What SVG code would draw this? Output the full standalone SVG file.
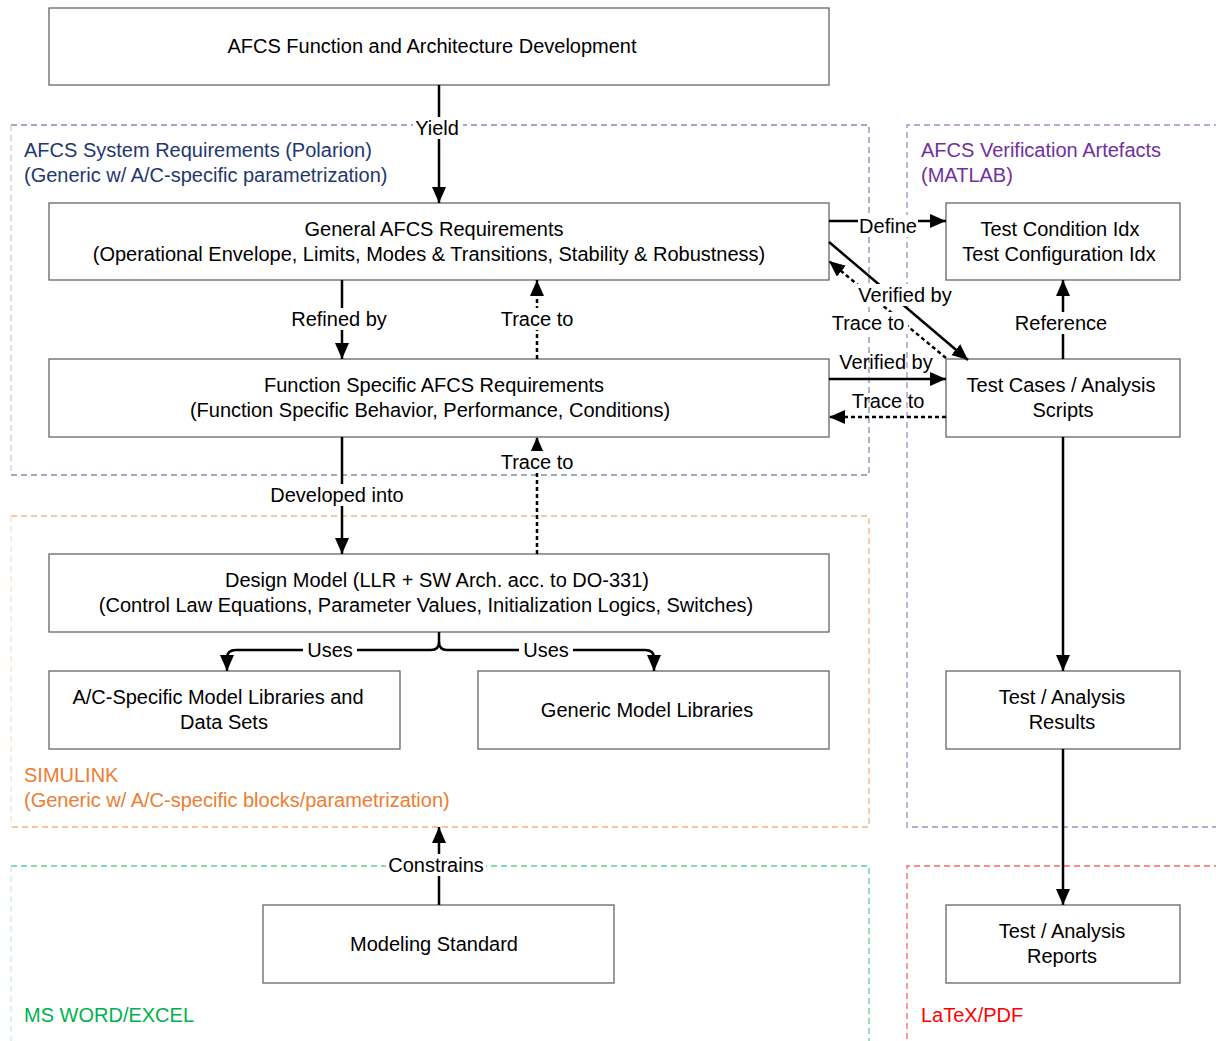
<svg xmlns="http://www.w3.org/2000/svg" width="1216" height="1041" viewBox="0 0 1216 1041">
  <defs>
    <marker id="arrow" markerUnits="userSpaceOnUse" markerWidth="18" markerHeight="16" refX="16" refY="7" orient="auto">
      <path d="M0,0 L16,7 L0,14 z" fill="#000"/>
    </marker>
    <style>
      text { font-family: "Liberation Sans", Arial, sans-serif; font-size: 20px; fill: #000; }
      .node rect { fill: #fff; stroke: #666; stroke-width: 1.3; }
      .node text { text-anchor: middle; dominant-baseline: central; }
      .grp { fill: none; stroke-width: 1.3; stroke-dasharray: 6 4; }
      .conn { fill: none; stroke: #000; stroke-width: 2.5; }
      .dash { stroke-dasharray: 4 3; }
      .lbl rect { fill: #fff; }
      .lbl text { text-anchor: middle; dominant-baseline: central; }
      .gtitle { dominant-baseline: central; }
      text.t-blue { fill: #1f3770; }
      text.t-orange { fill: #ed7d31; }
      text.t-green { fill: #00b050; }
      text.t-purple { fill: #7030a0; }
      text.t-red { fill: #ff0000; }
    </style>
  </defs>

  <rect width="1216" height="1041" fill="#fff"/>

  <!-- tool / environment groups -->
  <g id="grp-polarion">
    <path class="grp" d="M11,125 H869 V475 H11" stroke="#7f8fb0"/>
    <path class="grp" d="M11,125 V475" stroke="#c8cfdc"/>
    <text class="gtitle t-blue" x="24" y="150">AFCS System Requirements (Polarion)</text>
    <text class="gtitle t-blue" x="24" y="175">(Generic w/ A/C-specific parametrization)</text>
  </g>
  <g id="grp-simulink">
    <path class="grp" d="M11,516 H869 V827 H11" stroke="#f4b183"/>
    <path class="grp" d="M11,516 V827" stroke="#fbe0cc"/>
    <text class="gtitle t-orange" x="24" y="775">SIMULINK</text>
    <text class="gtitle t-orange" x="24" y="800">(Generic w/ A/C-specific blocks/parametrization)</text>
  </g>
  <g id="grp-word">
    <path class="grp" d="M11,866 H869 V1045" stroke="#5fd08f"/>
    <path class="grp" d="M11,866 V1045" stroke="#c8ede0"/>
    <text class="gtitle t-green" x="24" y="1015">MS WORD/EXCEL</text>
  </g>
  <g id="grp-matlab">
    <path class="grp" d="M1220,125 H907 V827 H1220" stroke="#a98bcc"/>
    <text class="gtitle t-purple" x="921" y="150">AFCS Verification Artefacts</text>
    <text class="gtitle t-purple" x="921" y="175">(MATLAB)</text>
  </g>
  <g id="grp-latex">
    <path class="grp" d="M1220,866 H907 V1045" stroke="#ff6666"/>
    <text class="gtitle t-red" x="921" y="1015">LaTeX/PDF</text>
  </g>

  <!-- nodes -->
  <g id="n-dev" class="node">
    <rect x="49" y="8" width="780" height="77"/>
    <text x="432" y="46">AFCS Function and Architecture Development</text>
  </g>
  <g id="n-general" class="node">
    <rect x="49" y="203" width="780" height="77"/>
    <text x="434" y="229">General AFCS Requirements</text>
    <text x="429" y="254">(Operational Envelope, Limits, Modes &amp; Transitions, Stability &amp; Robustness)</text>
  </g>
  <g id="n-function" class="node">
    <rect x="49" y="359" width="780" height="78"/>
    <text x="434" y="385">Function Specific AFCS Requirements</text>
    <text x="430" y="410">(Function Specific Behavior, Performance, Conditions)</text>
  </g>
  <g id="n-design" class="node">
    <rect x="49" y="554" width="780" height="78"/>
    <text x="437" y="580">Design Model (LLR + SW Arch. acc. to DO-331)</text>
    <text x="426" y="605">(Control Law Equations, Parameter Values, Initialization Logics, Switches)</text>
  </g>
  <g id="n-aclib" class="node">
    <rect x="49" y="671" width="351" height="78"/>
    <text x="218" y="697">A/C-Specific Model Libraries and</text>
    <text x="224" y="722">Data Sets</text>
  </g>
  <g id="n-genlib" class="node">
    <rect x="478" y="671" width="351" height="78"/>
    <text x="647" y="710">Generic Model Libraries</text>
  </g>
  <g id="n-modstd" class="node">
    <rect x="263" y="905" width="351" height="78"/>
    <text x="434" y="944">Modeling Standard</text>
  </g>
  <g id="n-testcond" class="node">
    <rect x="946" y="203" width="234" height="77"/>
    <text x="1060" y="229">Test Condition Idx</text>
    <text x="1059" y="254">Test Configuration Idx</text>
  </g>
  <g id="n-testcases" class="node">
    <rect x="946" y="359" width="234" height="78"/>
    <text x="1061" y="385">Test Cases / Analysis</text>
    <text x="1063" y="410">Scripts</text>
  </g>
  <g id="n-results" class="node">
    <rect x="946" y="671" width="234" height="78"/>
    <text x="1062" y="697">Test / Analysis</text>
    <text x="1062" y="722">Results</text>
  </g>
  <g id="n-reports" class="node">
    <rect x="946" y="905" width="234" height="78"/>
    <text x="1062" y="931">Test / Analysis</text>
    <text x="1062" y="956">Reports</text>
  </g>

  <!-- connectors -->
  <g id="connectors">
    <line class="conn" x1="439" y1="85" x2="439" y2="203" marker-end="url(#arrow)"/>
    <line class="conn" x1="342" y1="280" x2="342" y2="359" marker-end="url(#arrow)"/>
    <line class="conn dash" x1="537" y1="359" x2="537" y2="280" marker-end="url(#arrow)"/>
    <line class="conn" x1="342" y1="437" x2="342" y2="554" marker-end="url(#arrow)"/>
    <line class="conn dash" x1="537" y1="554" x2="537" y2="437" marker-end="url(#arrow)"/>
    <path class="conn" d="M439,632 V642 Q439,650 431,650 H236 Q227,650 227,658 V671" marker-end="url(#arrow)"/>
    <path class="conn" d="M439,642 Q439,650 447,650 H645 Q654,650 654,658 V671" marker-end="url(#arrow)"/>
    <line class="conn" x1="439" y1="905" x2="439" y2="827" marker-end="url(#arrow)"/>
    <line class="conn" x1="829" y1="221" x2="946" y2="221" marker-end="url(#arrow)"/>
    <line class="conn" x1="829" y1="242" x2="968" y2="360" marker-end="url(#arrow)"/>
    <line class="conn dash" x1="946" y1="358" x2="829" y2="261" marker-end="url(#arrow)"/>
    <line class="conn" x1="829" y1="379" x2="946" y2="379" marker-end="url(#arrow)"/>
    <line class="conn dash" x1="946" y1="417" x2="829" y2="417" marker-end="url(#arrow)"/>
    <line class="conn" x1="1063" y1="359" x2="1063" y2="280" marker-end="url(#arrow)"/>
    <line class="conn" x1="1063" y1="437" x2="1063" y2="671" marker-end="url(#arrow)"/>
    <line class="conn" x1="1063" y1="749" x2="1063" y2="905" marker-end="url(#arrow)"/>

    <!-- connector labels -->
    <g class="lbl">
      <rect x="413" y="117" width="50" height="22"/><text x="437" y="128">Yield</text>
      <rect x="286" y="308" width="106" height="22"/><text x="339" y="319">Refined by</text>
      <rect x="494" y="308" width="86" height="22"/><text x="537" y="319">Trace to</text>
      <rect x="266" y="484" width="142" height="22"/><text x="337" y="495">Developed into</text>
      <rect x="494" y="451" width="86" height="22"/><text x="537" y="462">Trace to</text>
      <rect x="303" y="639" width="54" height="22"/><text x="330" y="650">Uses</text>
      <rect x="519" y="639" width="54" height="22"/><text x="546" y="650">Uses</text>
      <rect x="386" y="854" width="100" height="22"/><text x="436" y="865">Constrains</text>
      <rect x="858" y="215" width="60" height="22"/><text x="888" y="226">Define</text>
      <rect x="853" y="284" width="104" height="22"/><text x="905" y="295">Verified by</text>
      <rect x="828" y="312" width="80" height="22"/><text x="868" y="323">Trace to</text>
      <text x="886" y="362">Verified by</text>
      <text x="888" y="401">Trace to</text>
      <rect x="1012" y="312" width="98" height="22"/><text x="1061" y="323">Reference</text>
    </g>
  </g>
</svg>
